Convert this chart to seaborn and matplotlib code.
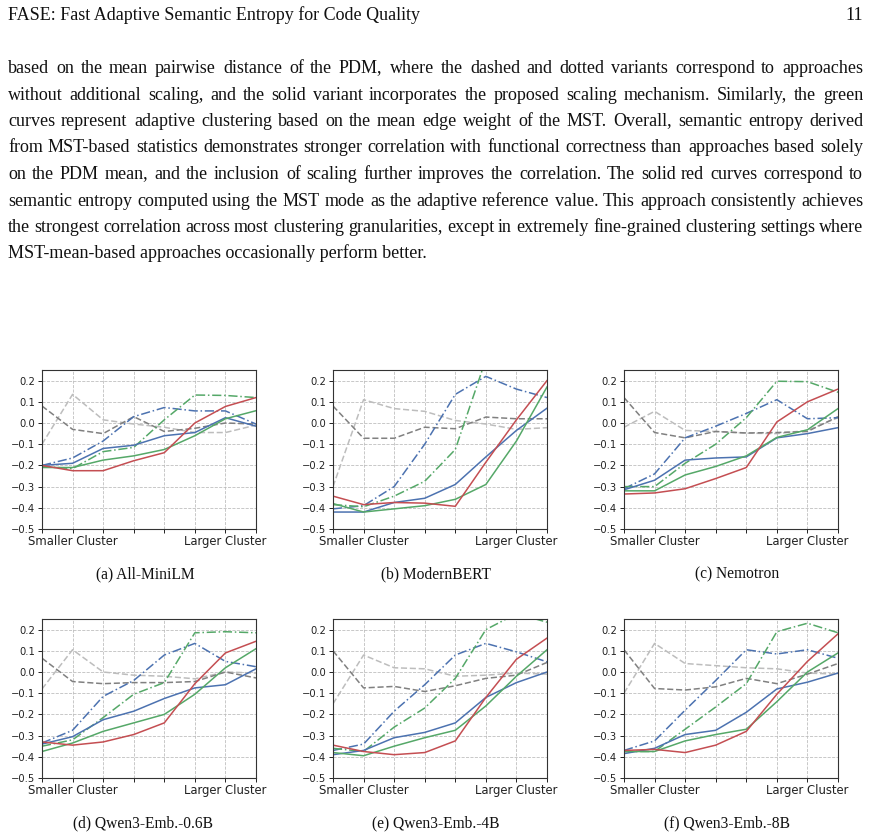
import math
import numpy as np
import pandas as pd
import matplotlib
matplotlib.use("Agg")
import matplotlib.pyplot as plt
from matplotlib.font_manager import FontProperties
import seaborn as sns

W, H = 871, 836

# ---------------- data ----------------
x_pos = list(range(8))
x_labels = ["", "Smaller Cluster", "", "", "", "", "Larger Cluster", ""]
y_ticks = [-0.5, -0.4, -0.3, -0.2, -0.1, 0.0, 0.1, 0.2]

captions = ["(a) All-MiniLM", "(b) ModernBERT", "(c) Nemotron",
            "(d) Qwen3-Emb.-0.6B", "(e) Qwen3-Emb.-4B", "(f) Qwen3-Emb.-8B"]

series_names = ["baseline_light", "baseline_dark", "pdm_mean", "mst_mean",
                "pdm_mean_scaled", "mst_mean_scaled", "mst_mode"]

# (a) All-MiniLM
a_light = [-0.10, 0.135, 0.015, -0.005, -0.02, -0.045, -0.045, -0.01]
a_dark = [0.08, -0.03, -0.05, 0.03, -0.04, -0.025, 0.0, -0.005]
a_pdm = [-0.20, -0.165, -0.085, 0.03, 0.073, 0.057, 0.057, -0.005]
a_mst = [-0.205, -0.215, -0.135, -0.115, 0.015, 0.132, 0.13, 0.12]
a_pdm_s = [-0.20, -0.19, -0.12, -0.105, -0.06, -0.045, 0.025, -0.015]
a_mst_s = [-0.21, -0.21, -0.175, -0.155, -0.125, -0.06, 0.02, 0.058]
a_mode = [-0.20, -0.225, -0.225, -0.178, -0.14, 0.0, 0.078, 0.12]

# (b) ModernBERT
b_light = [-0.30, 0.11, 0.068, 0.055, 0.012, -0.005, -0.03, -0.022]
b_dark = [0.08, -0.072, -0.072, -0.02, -0.027, 0.028, 0.02, 0.02]
b_pdm = [-0.405, -0.39, -0.30, -0.10, 0.135, 0.22, 0.16, 0.12]
b_mst = [-0.385, -0.395, -0.345, -0.275, -0.125, 0.30, 0.32, 0.30]
b_pdm_s = [-0.42, -0.42, -0.375, -0.355, -0.29, -0.16, -0.035, 0.07]
b_mst_s = [-0.38, -0.42, -0.405, -0.39, -0.36, -0.29, -0.085, 0.17]
b_mode = [-0.345, -0.385, -0.375, -0.378, -0.393, -0.185, 0.015, 0.20]

# (c) Nemotron
c_light = [-0.02, 0.055, -0.035, -0.04, -0.048, -0.05, -0.035, 0.025]
c_dark = [0.12, -0.045, -0.07, -0.04, -0.047, -0.045, -0.04, 0.03]
c_pdm = [-0.31, -0.24, -0.07, -0.015, 0.045, 0.11, 0.02, 0.025]
c_mst = [-0.30, -0.30, -0.19, -0.10, 0.025, 0.197, 0.195, 0.145]
c_pdm_s = [-0.315, -0.27, -0.175, -0.165, -0.16, -0.07, -0.05, -0.022]
c_mst_s = [-0.32, -0.32, -0.245, -0.205, -0.155, -0.068, -0.032, 0.068]
c_mode = [-0.335, -0.33, -0.31, -0.262, -0.21, 0.005, 0.10, 0.16]

# (d) Qwen3-Emb.-0.6B
d_light = [-0.08, 0.105, 0.0, -0.015, -0.02, -0.032, 0.0, -0.005]
d_dark = [0.065, -0.045, -0.055, -0.05, -0.05, -0.045, 0.0, -0.028]
d_pdm = [-0.335, -0.275, -0.115, -0.04, 0.08, 0.135, 0.05, 0.025]
d_mst = [-0.35, -0.32, -0.215, -0.105, -0.05, 0.185, 0.19, 0.185]
d_pdm_s = [-0.34, -0.305, -0.225, -0.185, -0.125, -0.075, -0.06, 0.015]
d_mst_s = [-0.375, -0.335, -0.28, -0.24, -0.20, -0.105, 0.02, 0.11]
d_mode = [-0.33, -0.345, -0.33, -0.295, -0.24, -0.055, 0.09, 0.145]

# (e) Qwen3-Emb.-4B
e_light = [-0.15, 0.08, 0.02, 0.015, -0.02, -0.015, -0.005, -0.01]
e_dark = [0.10, -0.075, -0.068, -0.092, -0.065, -0.03, -0.015, 0.045]
e_pdm = [-0.37, -0.34, -0.185, -0.06, 0.08, 0.135, 0.095, 0.048]
e_mst = [-0.36, -0.375, -0.26, -0.17, -0.03, 0.20, 0.275, 0.235]
e_pdm_s = [-0.39, -0.37, -0.31, -0.285, -0.24, -0.12, -0.05, 0.0]
e_mst_s = [-0.38, -0.395, -0.35, -0.31, -0.275, -0.16, -0.02, 0.105]
e_mode = [-0.345, -0.375, -0.39, -0.38, -0.325, -0.12, 0.06, 0.16]

# (f) Qwen3-Emb.-8B
f_light = [-0.10, 0.135, 0.04, 0.03, 0.02, 0.015, -0.005, -0.01]
f_dark = [0.105, -0.078, -0.085, -0.07, -0.03, -0.055, -0.01, 0.04]
f_pdm = [-0.37, -0.325, -0.18, -0.04, 0.105, 0.085, 0.105, 0.065]
f_mst = [-0.375, -0.375, -0.27, -0.165, -0.055, 0.19, 0.23, 0.185]
f_pdm_s = [-0.385, -0.36, -0.295, -0.275, -0.19, -0.08, -0.048, -0.005]
f_mst_s = [-0.375, -0.375, -0.325, -0.295, -0.27, -0.14, 0.0, 0.09]
f_mode = [-0.37, -0.365, -0.38, -0.345, -0.28, -0.105, 0.05, 0.18]

panels = [
    [a_light, a_dark, a_pdm, a_mst, a_pdm_s, a_mst_s, a_mode],
    [b_light, b_dark, b_pdm, b_mst, b_pdm_s, b_mst_s, b_mode],
    [c_light, c_dark, c_pdm, c_mst, c_pdm_s, c_mst_s, c_mode],
    [d_light, d_dark, d_pdm, d_mst, d_pdm_s, d_mst_s, d_mode],
    [e_light, e_dark, e_pdm, e_mst, e_pdm_s, e_mst_s, e_mode],
    [f_light, f_dark, f_pdm, f_mst, f_pdm_s, f_mst_s, f_mode],
]

header_left = "FASE: Fast Adaptive Semantic Entropy for Code Quality"
header_right = "11"
para_lines = [
    "based on the mean pairwise distance of the PDM, where the dashed and dotted variants correspond to approaches",
    "without additional scaling, and the solid variant incorporates the proposed scaling mechanism. Similarly, the green",
    "curves represent adaptive clustering based on the mean edge weight of the MST. Overall, semantic entropy derived",
    "from MST-based statistics demonstrates stronger correlation with functional correctness than approaches based solely",
    "on the PDM mean, and the inclusion of scaling further improves the correlation. The solid red curves correspond to",
    "semantic entropy computed using the MST mode as the adaptive reference value. This approach consistently achieves",
    "the strongest correlation across most clustering granularities, except in extremely fine-grained clustering settings where",
    "MST-mean-based approaches occasionally perform better.",
]

# ---------------- styles ----------------
colors = {
    "baseline_light": "#bdbdbd",
    "baseline_dark": "#808080",
    "pdm_mean": "#4C72B0",
    "mst_mean": "#55A868",
    "pdm_mean_scaled": "#4C72B0",
    "mst_mean_scaled": "#55A868",
    "mst_mode": "#C44E52",
}
styles = {
    "baseline_light": (0, (4.0, 1.8)),
    "baseline_dark": (0, (4.0, 1.8)),
    "pdm_mean": (0, (6.0, 1.8, 1.0, 1.8)),
    "mst_mean": (0, (6.0, 1.8, 1.0, 1.8)),
    "pdm_mean_scaled": "-",
    "mst_mean_scaled": "-",
    "mst_mode": "-",
}

fig = plt.figure(figsize=(W / 100, H / 100), dpi=100)
fig.patch.set_facecolor("white")

serif = ["Liberation Serif", "DejaVu Serif"]


def fy(y):
    return 1 - y / H


def fx(x):
    return x / W


# ---------------- axes ----------------
col_left = [42, 333, 624]
row_top = [370, 619]
ax_w, ax_h = 214, 159
cap_x = [145, 436, 737, 143, 435.5, 726.5]
cap_base = [578, 827]

for k, vals in enumerate(panels):
    r, c = divmod(k, 3)
    left = col_left[c]
    top = row_top[r]
    ax = fig.add_axes([fx(left), fy(top + ax_h), ax_w / W, ax_h / H])
    for name, yv in zip(series_names, vals):
        df = pd.DataFrame({"x": x_pos, "y": yv})
        sns.lineplot(data=df, x="x", y="y", ax=ax, color=colors[name],
                     linestyle=styles[name], linewidth=1.1, legend=False)
    ax.set_xlim(0, 7)
    ax.set_ylim(-0.5, 0.25)
    ax.set_xticks(x_pos)
    ax.set_xticklabels(x_labels)
    ax.set_yticks(y_ticks)
    ax.set_yticklabels([f"{v:.1f}".replace("-", "\u2212") for v in y_ticks])
    ax.tick_params(axis="both", length=3, width=0.7, pad=2, colors="#222222")
    ax.tick_params(axis="x", labelsize=8.4, pad=1.5)
    ax.tick_params(axis="y", labelsize=7.2)
    ax.set_xlabel("")
    ax.set_ylabel("")
    ax.grid(True, linestyle="--", color="#b8b8b8", linewidth=0.6, alpha=0.9)
    ax.set_axisbelow(True)
    for s in ax.spines.values():
        s.set_linewidth(0.8)
        s.set_color("#333333")
    fig.text(fx(cap_x[k]), fy(cap_base[r]), captions[k], ha="center",
             va="baseline", fontsize=11.2, family=serif, color="#111111")

# ---------------- page text ----------------
fs = 18 * 72 / 100  # 18 px glyph size
fig.text(fx(8), fy(20), header_left, ha="left", va="baseline",
         fontsize=fs, family=serif, color="#111111")
fig.text(fx(863), fy(20), header_right, ha="right", va="baseline",
         fontsize=fs, family=serif, color="#111111")

renderer = fig.canvas.get_renderer()
prop = FontProperties(family=serif, size=fs)


def baseline_fix(word, yb):
    # compensate Agg's per-string pixel rounding so all words share a baseline
    _, h, d = renderer.get_text_width_height_descent(word, prop, ismath=False)
    s = round(yb + d) - math.floor(h) + math.floor(h - d) - yb
    return yb - s


L, R = 8, 863
base0, step = 73, 26.5
for i, line in enumerate(para_lines):
    yb = round(base0 + i * step)
    if i == len(para_lines) - 1:
        fig.text(fx(L), fy(yb), line, ha="left", va="baseline", fontsize=fs,
                 family=serif, color="#111111")
        continue
    words = line.split()
    texts = [fig.text(0, fy(baseline_fix(w, yb)), w, ha="left", va="baseline",
                      fontsize=fs, family=serif, color="#111111") for w in words]
    widths = [t.get_window_extent(renderer).width for t in texts]
    gap = (R - L - sum(widths)) / (len(words) - 1)
    xcur = L
    for t, wd in zip(texts, widths):
        t.set_x(fx(round(xcur)))
        xcur += wd + gap

fig.savefig("out.png", dpi=100, facecolor="white")
